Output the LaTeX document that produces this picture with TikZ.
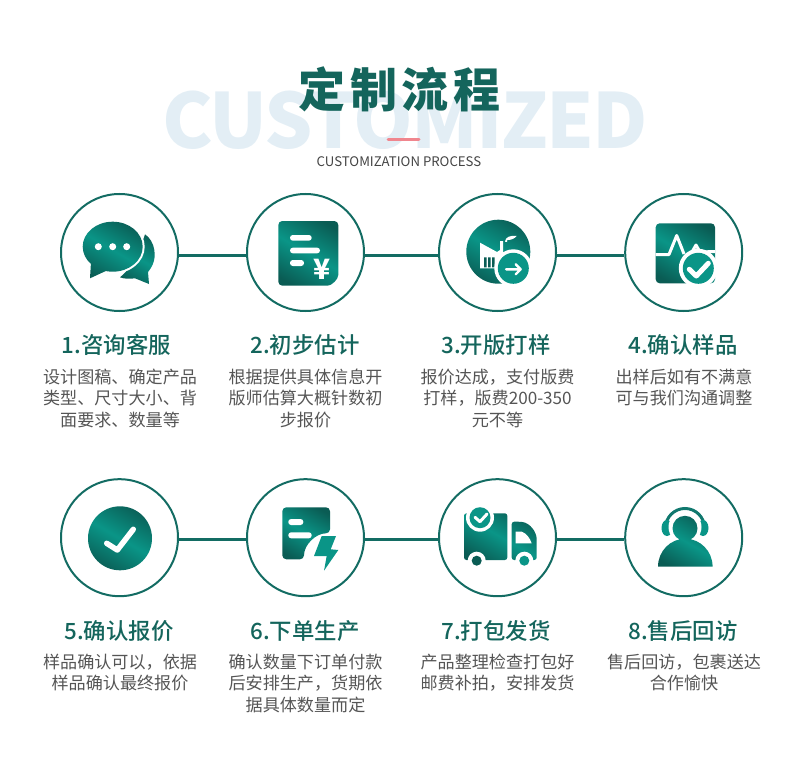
\documentclass[tikz,border=0pt]{standalone}
\usepackage{fontspec}
\setmainfont{Noto Sans CJK SC}
\newfontfamily\medfont{Noto Sans CJK SC Medium}
\newcommand{\zhcomma}{\char"FF0C\relax}
\definecolor{tealdark}{HTML}{0A5C54}
\definecolor{tealmid}{HTML}{0A9587}
\definecolor{ringgreen}{HTML}{136C63}
\definecolor{headgreen}{HTML}{14655C}
\definecolor{bodygray}{HTML}{555555}
\definecolor{ghostblue}{HTML}{E3EEF5}
\definecolor{barpink}{HTML}{F0868E}
\pgfdeclarehorizontalshading{tealband}{100bp}{color(0bp)=(tealdark); color(22bp)=(tealdark); color(50bp)=(tealmid); color(78bp)=(tealdark); color(100bp)=(tealdark)}
\begin{document}
\begin{tikzpicture}[x=1pt, y=-1pt,
  stepcircle/.style={draw=ringgreen, line width=2pt, circle, minimum size=117pt, inner sep=0pt},
  connector/.style={draw=ringgreen, line width=3pt},
  steptitle/.style={text=headgreen, font=\fontsize{22.4}{26}\selectfont\medfont, inner sep=0pt},
  stepdesc/.style={text=bodygray, font=\fontsize{17.1}{21.5}\selectfont, align=center, anchor=north, inner sep=0pt},
  iconfill/.style={shade, shading=tealband, shading angle=60},
  cutout/.style={fill=white},
  whiteline/.style={draw=white, line cap=round, line join=round}
]
\useasboundingbox (0,0) rectangle (790,773);
\node[text=ghostblue, font=\fontsize{76}{90}\selectfont\bfseries\addfontfeature{LetterSpace=-2.5}, inner sep=0pt] (ghost) at (405,120) {CUSTOMIZED};
\node[text=headgreen, font=\fontsize{47}{52}\selectfont\bfseries\addfontfeature{LetterSpace=10}, inner sep=0pt] (title) at (399.5,89) {定制流程};
\draw[barpink, line width=3pt, line cap=round] (388,139.5) coordinate (barleft) -- (419,139.5) coordinate (barright);
\node[text=bodygray!80!black, font=\fontsize{13.2}{16}\selectfont, inner sep=0pt] (subtitle) at (399,162) {CUSTOMIZATION PROCESS};

\node[stepcircle] (c1) at (119.5,252.5) {};
\node[stepcircle] (c2) at (305.5,252.5) {};
\node[stepcircle] (c3) at (497.5,252.5) {};
\node[stepcircle] (c4) at (683.7,252.5) {};
\node[stepcircle] (c5) at (119.5,537.7) {};
\node[stepcircle] (c6) at (305.5,537.7) {};
\node[stepcircle] (c7) at (497.5,537.7) {};
\node[stepcircle] (c8) at (683.7,537.7) {};
\draw[connector] ([yshift=-2.5pt]c1.east) -- ([yshift=-2.5pt]c2.west);
\draw[connector] ([yshift=-2.5pt]c2.east) -- ([yshift=-2.5pt]c3.west);
\draw[connector] ([yshift=-2.5pt]c3.east) -- ([yshift=-2.5pt]c4.west);
\draw[connector] ([yshift=-1.5pt]c5.east) -- ([yshift=-1.5pt]c6.west);
\draw[connector] ([yshift=-1.5pt]c6.east) -- ([yshift=-1.5pt]c7.west);
\draw[connector] ([yshift=-1.5pt]c7.east) -- ([yshift=-1.5pt]c8.west);

\path[iconfill] (145,234.3) .. controls (154,240) and (160,258) .. (148,272) -- (149,284) -- (135,278.3)
  .. controls (130,279) and (124,279) .. (120,277.3) .. controls (130,270) and (140,250) .. cycle;
\fill[cutout] (112.7,246.7) ellipse [x radius=32, y radius=27];
\path[iconfill] (112.7,246.7) ellipse [x radius=30, y radius=25]
  (91,262) -- (108,270) -- (90,278.3) -- cycle;
\fill[cutout] (98.3,246.7) circle (3.5) (112.7,246.7) circle (3.5) (126.7,246.7) circle (3.5);

\path[iconfill, rounded corners=4pt] (278.3,221) -- (338.3,221) -- (338.3,271) arc[start angle=0, end angle=90, radius=14.7] -- (278.3,285.7) -- cycle;
\fill[cutout, rounded corners=2.8pt] (290,235) rectangle (311.7,240.7) (290,247.7) rectangle (320,253.3) (290,260) rectangle (304,266);
\node[text=white, font=\fontsize{28}{28}\selectfont\bfseries, inner sep=0pt] (yen) at (321.7,269.3) {¥};

\path[iconfill] (498.3,251.7) circle (32);
\fill[cutout] (480,242.7) -- (497,252) -- (500,250) -- (500,241) -- (503,241) -- (503,256) -- (497,268.3) -- (480,268.3) -- cycle;
\fill[cutout] (505,241.7) .. controls (505,237) and (511,235) .. (516.7,236) .. controls (514,239) and (511,240) .. (507.3,240) -- (507,242) -- cycle;
\fill[tealdark] (484,257.3) rectangle (486.5,267.3) (488,257.3) rectangle (490.5,267.3) (492,257.3) rectangle (494.5,267.3);
\fill[cutout] (513.3,268.3) circle (19);
\fill[tealmid] (513.3,268.3) circle (15.5);
\draw[whiteline, line width=2.4pt] (506,269.3) -- (520.7,269.3) (515.7,264.3) -- (520.7,269.3) -- (515.7,274.3);

\path[iconfill, rounded corners=4pt] (655.7,223.3) rectangle (715,283.3);
\draw[whiteline, line width=3pt, line cap=butt] (655.7,254.5) -- (669,254.5) -- (676.7,235.5) -- (684,254);
\draw[whiteline, line width=3pt, line cap=butt] (692,252) -- (696,245) -- (700,252) -- (715,251.5);
\fill[cutout] (698.3,268.3) circle (19.5);
\fill[tealmid] (698.3,268.3) circle (15.5);
\draw[whiteline, line width=5pt] (689.3,269.3) -- (696.3,276) -- (708.3,263.3);

\path[iconfill] (120,538.3) circle (32);
\draw[whiteline, line width=5.5pt] (106.7,543.3) -- (117.3,550) -- (133.3,529.3);

\path[iconfill, rounded corners=4pt] (282.3,507.3) -- (330,507.3) -- (330,533.3) arc[start angle=270, end angle=180, radius=26] -- (282.3,559.3) -- cycle;
\fill[cutout, rounded corners=2.8pt] (288.3,519) rectangle (303.3,525) (288.3,532.3) rectangle (311.7,538.3);
\fill[tealmid] (321.7,536) -- (336,536) -- (330.7,549.3) -- (338.3,550) -- (324,570.7) -- (326.7,556) -- (314,556) -- cycle;

\path[iconfill, rounded corners=2.5pt] (464,513.3) rectangle (507.3,560)
  (511.7,521.7) -- (520,521.7) .. controls (530,523) and (536.7,532) .. (536.7,541.7) -- (536.7,560) -- (511.7,560) -- cycle;
\fill[cutout] (515.7,531.7) -- (521.7,531.7) .. controls (526,533) and (530,538) .. (531.7,543.3) -- (515.7,543.3) -- cycle;
\fill[cutout] (480,517.7) circle (14) (476.7,560.7) circle (9) (524.3,560.7) circle (9);
\fill[tealmid] (480,517.7) circle (10.5) (524.3,560.7) circle (5);
\fill[tealdark] (476.7,560.7) circle (5);
\draw[whiteline, line width=3pt] (475,517.3) -- (480,521.7) -- (487,514);

\draw[ringgreen!70!tealmid, line width=3pt] (665.5,528) arc[start angle=180, end angle=360, radius=19.5];
\fill[tealmid] (667,528) ellipse [x radius=5.5, y radius=8] (703,528) ellipse [x radius=5.5, y radius=8];
\fill[cutout] (685,527) circle (16.5);
\path[iconfill] (685,528.3) circle (12.5) (658,566.7) arc[start angle=180, end angle=360, x radius=27.3, y radius=28] -- cycle;

\node[steptitle] (t1) at (116.5,345) {1.咨询客服};
\node[steptitle] (t2) at (305,345) {2.初步估计};
\node[steptitle] (t3) at (496,345) {3.开版打样};
\node[steptitle] (t4) at (683,345) {4.确认样品};
\node[steptitle] (t5) at (119,631) {5.确认报价};
\node[steptitle] (t6) at (305,631) {6.下单生产};
\node[steptitle] (t7) at (496,631) {7.打包发货};
\node[steptitle] (t8) at (683,631) {8.售后回访};
\node[stepdesc] (d1) at (120,368.5) {设计图稿、确定产品\\类型、尺寸大小、背\\面要求、数量等};
\node[stepdesc] (d2) at (305.5,368.5) {根据提供具体信息开\\版师估算大概针数初\\步报价};
\node[stepdesc] (d3) at (497.5,368.5) {报价达成\zhcomma 支付版费\\打样\zhcomma 版费200-350\\元不等};
\node[stepdesc] (d4) at (684,368.5) {出样后如有不满意\\可与我们沟通调整};
\node[stepdesc] (d5) at (120,653.5) {样品确认可以\zhcomma 依据\\样品确认最终报价};
\node[stepdesc] (d6) at (305.5,653.5) {确认数量下订单付款\\后安排生产\zhcomma 货期依\\据具体数量而定};
\node[stepdesc] (d7) at (497.5,653.5) {产品整理检查打包好\\邮费补拍\zhcomma 安排发货};
\node[stepdesc] (d8) at (684,653.5) {售后回访\zhcomma 包裹送达\\合作愉快};
\end{tikzpicture}
\end{document}
